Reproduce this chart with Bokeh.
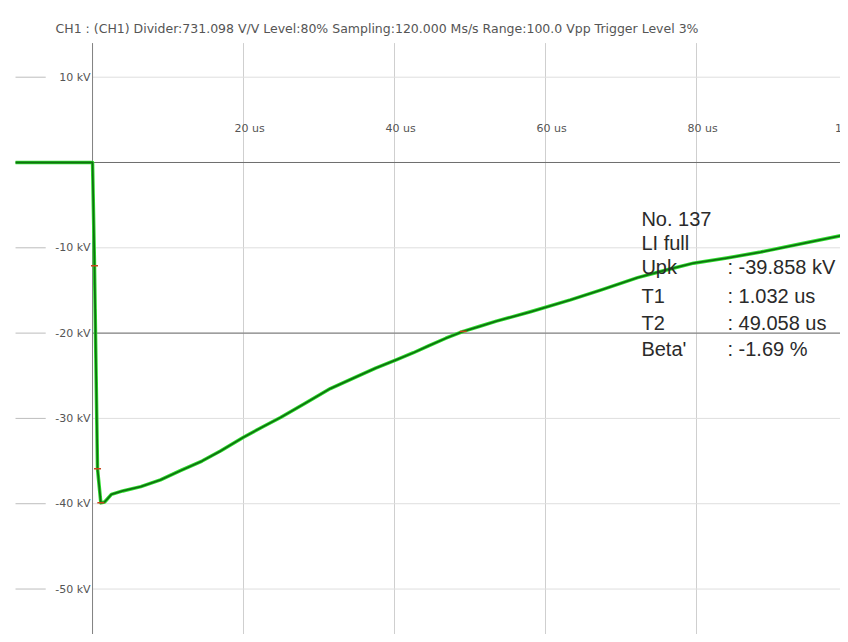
from bokeh.plotting import figure
from bokeh.models import Range1d, ColumnDataSource
from bokeh.core.properties import value
from bokeh.embed import file_html
from bokeh.resources import INLINE

# ---- data ----
time_us = [-10.2, -5.0, 0.0, 0.26, 0.66, 1.1, 1.6, 2.5, 4.0, 6.4, 9.0, 11.7, 14.5, 17.0,
           20.0, 22.5, 24.9, 28.0, 31.5, 35.0, 37.5, 40.3, 42.5, 44.5, 46.8, 49.1, 51.3,
           53.5, 58.0, 63.3, 67.5, 72.2, 76.0, 79.6, 84.0, 88.5, 94.0, 100.1]
voltage_kv = [0.0, 0.0, 0.0, -12.1, -35.9, -39.9, -39.8, -38.9, -38.5, -38.0, -37.2, -36.1,
              -35.0, -33.8, -32.2, -31.0, -29.9, -28.3, -26.5, -25.1, -24.1, -23.1, -22.3,
              -21.5, -20.6, -19.8, -19.2, -18.6, -17.5, -16.1, -14.9, -13.5, -12.6, -11.8,
              -11.2, -10.5, -9.5, -8.4]

marker_t = [0.26, 0.66, 1.1, 49.1]
marker_kv = [-12.1, -35.9, -39.9, -19.8]

x_ticks = [20, 40, 60, 80, 100]
x_tick_labels = ["20 us", "40 us", "60 us", "80 us", "100 us"]
y_ticks = [10, -10, -20, -30, -40, -50]
y_tick_labels = ["10 kV", "-10 kV", "-20 kV", "-30 kV", "-40 kV", "-50 kV"]
major_y_lines = [0, -20]

header = "CH1 : (CH1) Divider:731.098 V/V  Level:80%  Sampling:120.000 Ms/s  Range:100.0 Vpp  Trigger Level 3%"
info_names = ["No. 137", "LI full", "Upk", "T1", "T2", "Beta'"]
info_values = ["", "", ": -39.858 kV", ": 1.032 us", ": 49.058 us", ": -1.69 %"]

# ---- layout ----
X0, X1 = -12.19, 99.07
Y0, Y1 = -55.33, 18.99

p = figure(width=840, height=634, output_backend="svg", toolbar_location=None,
           x_range=Range1d(X0, X1), y_range=Range1d(Y0, Y1),
           min_border=0, min_border_left=0, min_border_right=0,
           min_border_top=0, min_border_bottom=0)
p.axis.visible = False
p.grid.visible = False
p.outline_line_color = None
p.background_fill_color = "white"

FONT = value("DejaVu Sans")
INFO_FONT = value("Liberation Sans")

# vertical grid lines
p.segment(x0=x_ticks[:-1], y0=[14] * 4, x1=x_ticks[:-1], y1=[-57] * 4,
          line_color="#cfcfcf", line_width=1)
# faint horizontal grid
p.segment(x0=[0] * len(y_ticks), y0=y_ticks, x1=[X1] * len(y_ticks), y1=y_ticks,
          line_color="#dedede", line_width=1)
# left tick dashes
p.segment(x0=[-10.2] * len(y_ticks), y0=y_ticks, x1=[-6.2] * len(y_ticks), y1=y_ticks,
          line_color="#bdbdbd", line_width=1)
# major horizontal lines
p.segment(x0=[0] * len(major_y_lines), y0=major_y_lines, x1=[X1] * len(major_y_lines),
          y1=major_y_lines, line_color="#6e6e6e", line_width=1)
# vertical axis
p.segment(x0=[0], y0=[14], x1=[0], y1=[-57], line_color="#808080", line_width=1)

# waveform
src = ColumnDataSource(dict(t=time_us, v=voltage_kv))
p.line("t", "v", source=src, line_color="#2ee02e", line_width=3.5, line_join="round")
p.line("t", "v", source=src, line_color="#107010", line_width=1.8, line_join="round")
p.scatter(marker_t, marker_kv, marker="dash", size=7, line_color="#c8461e", line_width=1.5)

# tick labels
p.text(x=[-0.25] * len(y_ticks), y=y_ticks, text=y_tick_labels, text_align="right",
       text_baseline="middle", text_font=FONT, text_font_size="11px", text_color="#555555")
p.text(x=[t + 0.8 for t in x_ticks], y=[4.0] * len(x_ticks), text=x_tick_labels,
       text_align="center", text_baseline="middle", text_font=FONT,
       text_font_size="11px", text_color="#555555")

# header
p.text(x=[-4.9], y=[15.7], text=[header], text_align="left", text_baseline="middle",
       text_font=FONT, text_font_size="12.5px", text_color="#555555")

# info block
rows_y = [-6.6, -9.4, -12.3, -15.7, -18.8, -21.9]
p.text(x=[72.7] * 6, y=rows_y, text=info_names, text_align="left", text_baseline="middle",
       text_font=INFO_FONT, text_font_size="20px", text_color="#2a2a2a")
p.text(x=[84.1] * 6, y=rows_y, text=info_values, text_align="left", text_baseline="middle",
       text_font=INFO_FONT, text_font_size="20px", text_color="#2a2a2a")

open("out.html", "w").write(file_html(p, INLINE))
